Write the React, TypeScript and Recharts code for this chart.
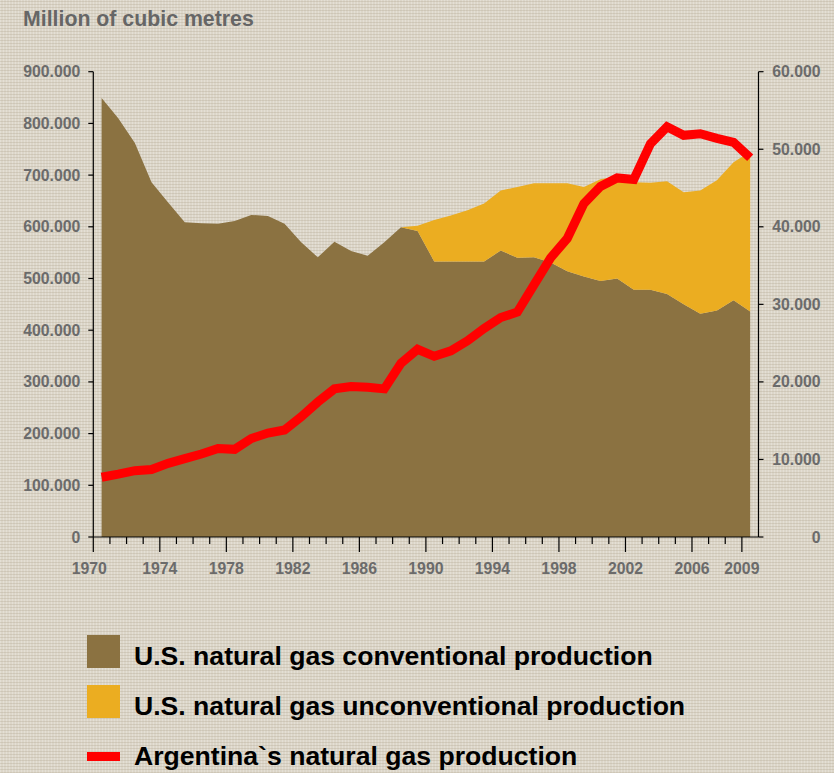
import React from 'react';
import { Area, ComposedChart, Line, XAxis, YAxis } from 'recharts';

// yearly values, plotted at mid-year
const years = [
  1970, 1971, 1972, 1973, 1974, 1975, 1976, 1977, 1978, 1979,
  1980, 1981, 1982, 1983, 1984, 1985, 1986, 1987, 1988, 1989,
  1990, 1991, 1992, 1993, 1994, 1995, 1996, 1997, 1998, 1999,
  2000, 2001, 2002, 2003, 2004, 2005, 2006, 2007, 2008, 2009,
];

// U.S. conventional production (million m3)
const conventional = [
  849000, 810000, 762000, 686000, 647000, 609000, 607000, 606000, 611000, 623000,
  621000, 606000, 570000, 541000, 571000, 553000, 544000, 570000, 599000, 592000,
  533000, 533000, 533000, 533000, 554000, 540000, 541000, 531000, 514000, 504000,
  495000, 500000, 478000, 478000, 470000, 450000, 432000, 438000, 458000, 436000,
];

// U.S. unconventional production (million m3)
const unconventional = [
  0, 0, 0, 0, 0, 0, 0, 0, 0, 0,
  0, 0, 0, 0, 0, 0, 0, 0, 0, 10000,
  80000, 89000, 99000, 112000, 116000, 137000, 143000, 153000, 170000, 173000,
  197000, 198000, 208000, 207000, 218000, 217000, 238000, 252000, 267000, 309000,
];

// Argentina production (right axis)
const argentina = [
  7700, 8100, 8550, 8700, 9500, 10100, 10700, 11400, 11300, 12700,
  13400, 13800, 15500, 17400, 19100, 19400, 19300, 19100, 22400, 24200,
  23300, 24000, 25300, 26900, 28300, 29000, 32500, 36000, 38500, 43000,
  45200, 46300, 46100, 50700, 52900, 51800, 52000, 51400, 50900, 48900,
];

const xLabels = [1970, 1974, 1978, 1982, 1986, 1990, 1994, 1998, 2002, 2006, 2009];
const leftTicks = [0, 100000, 200000, 300000, 400000, 500000, 600000, 700000, 800000, 900000];
const rightTicks = [0, 10000, 20000, 30000, 40000, 50000, 60000];

const legendItems = [
  { label: 'U.S. natural gas conventional production', color: '#8b7241', kind: 'box' },
  { label: 'U.S. natural gas unconventional production', color: '#ebad21', kind: 'box' },
  { label: 'Argentina`s natural gas production', color: '#ff0000', kind: 'line' },
];

const data = years.map((y, i) => ({
  x: y + 0.5,
  conventional: conventional[i],
  unconventional: unconventional[i],
  argentina: argentina[i],
}));

const fmt = (v: number) => String(v).replace(/\B(?=(\d{3})+(?!\d))/g, '.');

const FONT = '"Liberation Sans", Arial, sans-serif';
const TICK_COLOR = '#6b6b6b';
const TICK_SIZE = 15.8;

const XTick = (props: any) => {
  const { x, y, payload } = props;
  const major = xLabels.includes(payload.value);
  // first label sits a little to the left in the original
  const dx = payload.value === 1970 ? -4 : 0;
  return (
    <g>
      <line x1={x} y1={y} x2={x} y2={y + (major ? 15 : 7)} stroke="#000" strokeWidth={1.2} />
      {major ? (
        <text x={x + dx} y={y + 37} textAnchor="middle" fill={TICK_COLOR} fontSize={TICK_SIZE} fontWeight="bold" fontFamily={FONT}>
          {payload.value}
        </text>
      ) : null}
    </g>
  );
};

const LeftTick = (props: any) => {
  const { x, y, payload } = props;
  return (
    <g>
      <line x1={x - 5} y1={y} x2={x} y2={y} stroke="#000" strokeWidth={1.2} />
      <text x={x - 13} y={y + 5.5} textAnchor="end" fill={TICK_COLOR} fontSize={TICK_SIZE} fontWeight="bold" fontFamily={FONT}>
        {fmt(payload.value)}
      </text>
    </g>
  );
};

const RightTick = (props: any) => {
  const { x, y, payload } = props;
  return (
    <g>
      <line x1={x} y1={y} x2={x + 5} y2={y} stroke="#000" strokeWidth={1.2} />
      <text x={x + 62} y={y + 5.5} textAnchor="end" fill={TICK_COLOR} fontSize={TICK_SIZE} fontWeight="bold" fontFamily={FONT}>
        {fmt(payload.value)}
      </text>
    </g>
  );
};

const App = () => {
  return (
    <div
      style={{
        position: 'absolute',
        left: 0,
        top: 0,
        width: 834,
        height: 773,
        overflow: 'hidden',
        fontFamily: FONT,
        backgroundColor: '#dcd6c9',
        backgroundImage:
          'repeating-linear-gradient(0deg, rgba(170,158,135,0.28) 0px, rgba(170,158,135,0.28) 1px, transparent 1px, transparent 3px), repeating-linear-gradient(90deg, rgba(255,255,255,0.22) 0px, rgba(255,255,255,0.22) 1px, transparent 1px, transparent 3px)',
      }}
    >
      <div
        style={{
          position: 'absolute',
          left: 23,
          top: 8.5,
          fontSize: 21.3,
          lineHeight: 1,
          fontWeight: 'bold',
          color: '#666666',
          whiteSpace: 'nowrap',
        }}
      >
        Million of cubic metres
      </div>

      <ComposedChart
        width={834}
        height={600}
        data={data}
        margin={{ top: 71.7, right: 5.5, left: 0, bottom: 23 }}
      >
        <XAxis
          dataKey="x"
          type="number"
          domain={[1970, 2010]}
          ticks={years}
          interval={0}
          tick={<XTick />}
          tickLine={false}
          tickSize={0}
          tickMargin={0}
          height={40}
          axisLine={{ stroke: '#000', strokeWidth: 1.2 }}
          allowDecimals
        />
        <YAxis
          yAxisId="left"
          domain={[0, 900000]}
          ticks={leftTicks}
          interval={0}
          width={93.3}
          tick={<LeftTick />}
          tickLine={false}
          tickSize={0}
          tickMargin={0}
          axisLine={{ stroke: '#000', strokeWidth: 1.2 }}
        />
        <YAxis
          yAxisId="right"
          orientation="right"
          domain={[0, 60000]}
          ticks={rightTicks}
          interval={0}
          width={70}
          tick={<RightTick />}
          tickLine={false}
          tickSize={0}
          tickMargin={0}
          axisLine={{ stroke: '#000', strokeWidth: 1.2 }}
        />
        <Area
          yAxisId="left"
          type="linear"
          dataKey="conventional"
          stackId="us"
          fill="#8b7241"
          fillOpacity={1}
          stroke="none"
          isAnimationActive={false}
        />
        <Area
          yAxisId="left"
          type="linear"
          dataKey="unconventional"
          stackId="us"
          fill="#ebad21"
          fillOpacity={1}
          stroke="none"
          isAnimationActive={false}
        />
        <Line
          yAxisId="right"
          type="linear"
          dataKey="argentina"
          stroke="#ff0000"
          strokeWidth={9}
          dot={false}
          activeDot={false}
          isAnimationActive={false}
        />
      </ComposedChart>

      {legendItems.map((item, i) => (
        <div key={item.label}>
          {item.kind === 'box' ? (
            <div
              style={{
                position: 'absolute',
                left: 87,
                top: 635 + i * 50,
                width: 33,
                height: 33,
                background: item.color,
              }}
            />
          ) : (
            <div
              style={{
                position: 'absolute',
                left: 87,
                top: 752,
                width: 33,
                height: 8.5,
                background: item.color,
              }}
            />
          )}
          <div
            style={{
              position: 'absolute',
              left: 134,
              top: 643.2 + i * 50,
              fontSize: 26.6,
              lineHeight: 1,
              fontWeight: 'bold',
              color: '#000',
              whiteSpace: 'nowrap',
            }}
          >
            {item.label}
          </div>
        </div>
      ))}
    </div>
  );
};

export default App;
